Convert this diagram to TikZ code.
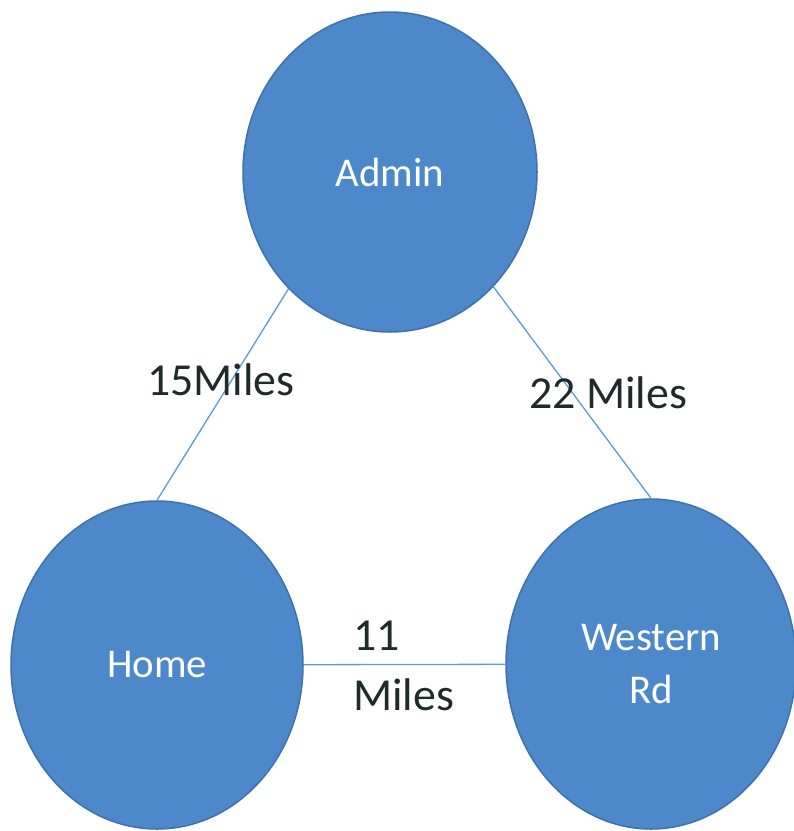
\documentclass[tikz,border=0pt]{standalone}
\usepackage{fontspec}
\setmainfont{Carlito}
\usetikzlibrary{shapes.geometric}
\definecolor{nodefill}{HTML}{4D88CA}
\definecolor{nodeline}{HTML}{3F72AC}
\definecolor{edgecol}{HTML}{5B9BD5}
\definecolor{labcol}{HTML}{1F2B2B}
\begin{document}
\begin{tikzpicture}[x=1bp,y=-1bp,
  place/.style={ellipse, fill=nodefill, draw=nodeline, line width=1.5bp, inner sep=0pt,
    text=white, align=center, font=\fontsize{41}{53}\selectfont},
  road/.style={draw=edgecol, line width=1.3bp},
  dist/.style={text=labcol, inner sep=0pt, align=left, font=\fontsize{46}{60}\selectfont}]
\useasboundingbox (0,0) rectangle (794,831);
\node[place, minimum width=294bp, minimum height=320bp] (admin) at (390,172) {Admin};
\node[place, minimum width=292bp, minimum height=328bp] (home) at (157,665) {Home};
\node[place, minimum width=290bp, minimum height=330bp] (western) at (651,664) {Western\\Rd};
\draw[road] (admin.229) -- (home.north);
\draw[road] (admin.312) -- (western.north);
\draw[road] (home) -- (western);
\node[dist, anchor=base west] (l1) at (147,395) {15Miles};
\node[dist, anchor=base west] (l2) at (529,408) {22 Miles};
\node[dist, anchor=west] (l3) at (353,666) {11\\Miles};
\end{tikzpicture}
\end{document}
